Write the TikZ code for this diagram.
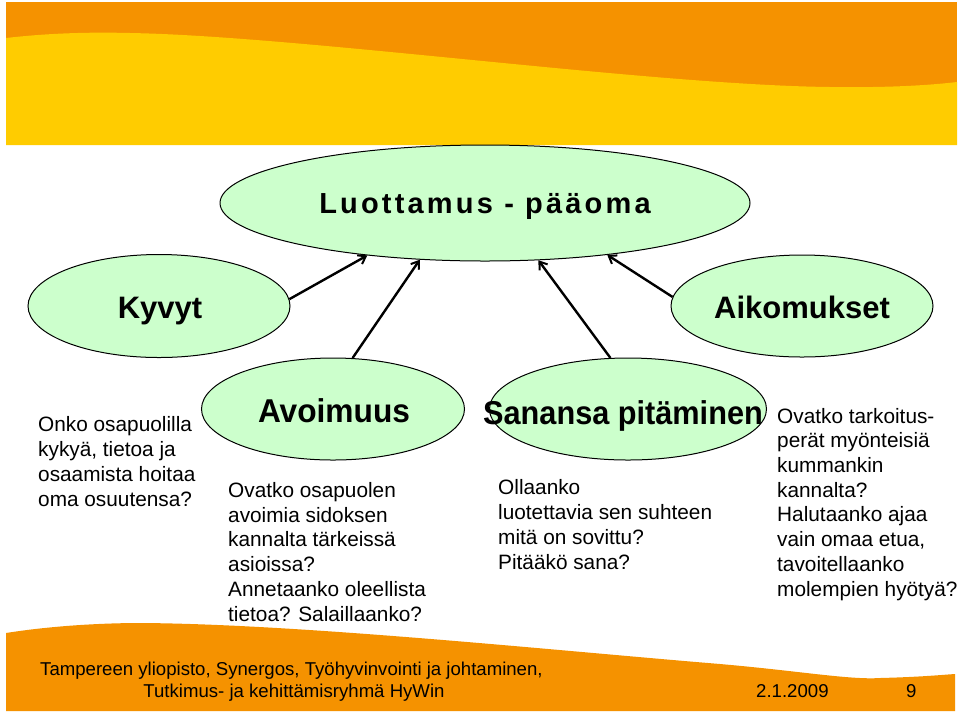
\documentclass[tikz,border=0pt]{standalone}
\usepackage{fontspec}
\setmainfont{Liberation Sans}
\newfontfamily\titlefont[LetterSpace=11]{Liberation Sans}
\usetikzlibrary{shapes.geometric,arrows.meta}
\definecolor{ora}{HTML}{F59200}
\definecolor{yel}{HTML}{FFCC00}
\definecolor{mint}{HTML}{CCFFCC}
\begin{document}
\begin{tikzpicture}[x=1pt,y=-1pt,
  oval/.style={ellipse, draw=black, line width=1pt, fill=mint, inner sep=0pt},
  head/.style={anchor=base, inner sep=0pt, font=\bfseries\fontsize{31}{36}\selectfont},
  body/.style={align=left, anchor=base west, inner sep=0pt, font=\fontsize{20.8}{24.7}\selectfont},
  foot/.style={inner sep=0pt, font=\fontsize{18.6}{20}\selectfont},
  link/.style={-{Straight Barb[length=7pt,width=10pt,line width=2pt]}, line width=2.4pt}]
\useasboundingbox (0,0) rectangle (960,716);
\fill[white] (0,0) rectangle (960,716);
% header banner
\fill[ora] (6,2) rectangle (957,145);
\fill[yel] (6,38) .. controls (50,33) and (90,32) .. (130,33)
  .. controls (300,36) and (650,85) .. (830,87)
  .. controls (900,88) and (940,84) .. (957,82) -- (957,145) -- (6,145) -- cycle;
% footer band
\fill[ora] (6,633) .. controls (50,626) and (100,623) .. (141,623)
  .. controls (300,624) and (550,650) .. (720,664)
  .. controls (800,671) and (850,680) .. (880,678)
  .. controls (920,677) and (940,675) .. (955,674) -- (955,711) -- (6,711) -- cycle;
% ellipses
\node[oval, minimum width=530pt, minimum height=116pt] (top) at (485,203) {};
\node[oval, minimum width=262pt, minimum height=103pt] (kyv) at (159,306) {};
\node[oval, minimum width=262pt, minimum height=102pt] (aik) at (802,306) {};
\node[oval, minimum width=263pt, minimum height=102pt] (avo) at (333,409) {};
\node[oval, minimum width=277pt, minimum height=102pt] (san) at (628,409) {};
% ellipse labels
\node[anchor=base, inner sep=0pt, font=\titlefont\bfseries\fontsize{29}{33}\selectfont] (topt) at (485,213) {Luottamus - pääoma};
\node[head] (kyvt) at (160,318) {Kyvyt};
\node[head] (aikt) at (802,318) {Aikomukset};
\node[head, font=\bfseries\fontsize{33}{38}\selectfont] (avot) at (334,422) {\scalebox{0.96}[1]{Avoimuus}};
\node[head, font=\bfseries\fontsize{33}{38}\selectfont] (sant) at (623,424) {\scalebox{0.93}[1]{Sanansa pitäminen}};
% arrows
\draw[link] (kyv.3) -- (top.204);
\draw[link] (avo.69) -- (top.221);
\draw[link] (san.109) -- (top.313);
\draw[link] (aik.176) -- (top.337);
% body texts (anchored at the baseline of the last line)
\node[body] (tk) at (38,506) {Onko osapuolilla\\kykyä, tietoa ja\\osaamista hoitaa\\oma osuutensa?};
\node[body] (ta) at (228,621) {Ovatko osapuolen\\avoimia sidoksen\\kannalta tärkeissä\\asioissa?\\Annetaanko oleellista\\tietoa? Salaillaanko?};
\node[body] (ts) at (498,569) {Ollaanko\\luotettavia sen suhteen\\mitä on sovittu?\\Pitääkö sana?};
\node[body] (tr) at (777,596) {Ovatko tarkoitus-\\perät myönteisiä\\kummankin\\kannalta?\\Halutaanko ajaa\\vain omaa etua,\\tavoitellaanko\\molempien hyötyä?};
% footer texts
\node[foot, anchor=base west] (f1) at (40,675) {Tampereen yliopisto, Synergos, Työhyvinvointi ja johtaminen,};
\node[foot, anchor=base] (f2) at (294,697) {Tutkimus- ja kehittämisryhmä HyWin};
\node[foot, anchor=base west] (f3) at (756,697) {2.1.2009};
\node[foot, anchor=base west] (f4) at (906,697) {9};
\end{tikzpicture}
\end{document}
